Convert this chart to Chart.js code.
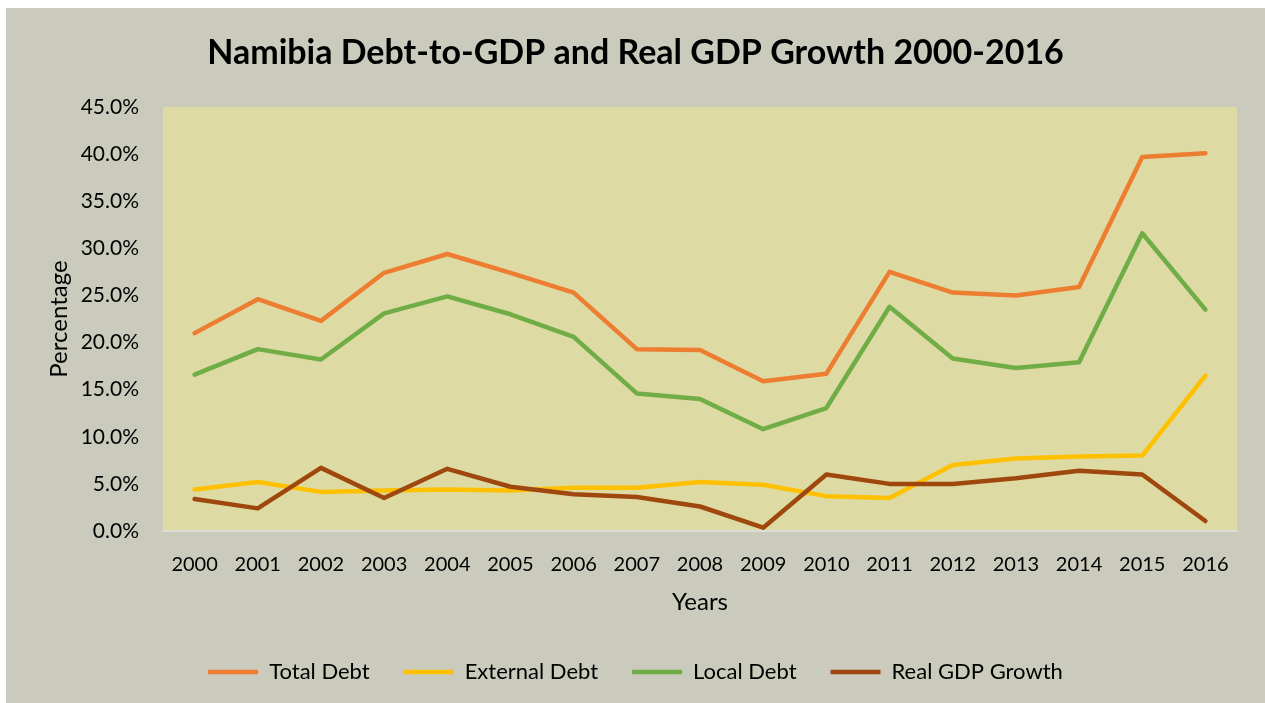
<!DOCTYPE html>
<html>
<head>
<meta charset="utf-8">
<style>
  html, body { margin: 0; padding: 0; background: #ffffff; }
  #wrap { width: 1265px; height: 703px; }
</style>
<script src="https://cdn.jsdelivr.net/npm/chart.js@4/dist/chart.umd.min.js"></script>
</head>
<body>
<div id="wrap"><canvas id="chart" width="1265" height="703"></canvas></div>
<script>
// Years on the category axis
const years = ['2000','2001','2002','2003','2004','2005','2006','2007','2008',
               '2009','2010','2011','2012','2013','2014','2015','2016'];

// Ratios to GDP and growth rate, in percent
const totalDebt    = [21.0, 24.6, 22.3, 27.4, 29.4, 27.4, 25.3, 19.3, 19.2, 15.9, 16.7, 27.5, 25.3, 25.0, 25.9, 39.7, 40.1];
const externalDebt = [4.4, 5.2, 4.15, 4.3, 4.4, 4.3, 4.6, 4.6, 5.2, 4.9, 3.7, 3.5, 7.0, 7.7, 7.9, 8.0, 16.5];
const localDebt    = [16.6, 19.3, 18.2, 23.1, 24.9, 23.0, 20.6, 14.6, 14.0, 10.8, 13.05, 23.8, 18.3, 17.3, 17.9, 31.6, 23.5];
const gdpGrowth    = [3.4, 2.4, 6.7, 3.5, 6.6, 4.7, 3.9, 3.6, 2.6, 0.35, 6.0, 5.0, 5.0, 5.6, 6.4, 6.0, 1.06];

// Value axis ticks
const yTicks = [0, 5, 10, 15, 20, 25, 30, 35, 40, 45];

const FONT = 'Lato, "Open Sans", sans-serif';

// Paints the card background and the shaded plotting area
const backdrop = {
  id: 'backdrop',
  beforeDraw(chart) {
    const { ctx, chartArea: a, width, height } = chart;
    ctx.save();
    ctx.fillStyle = '#ffffff';
    ctx.fillRect(0, 0, width, height);
    ctx.fillStyle = '#cbcbbd';
    ctx.fillRect(6, 8, width - 6, height - 8);
    ctx.fillStyle = '#dddba3';
    ctx.fillRect(a.left, a.top, a.right - a.left, a.bottom - a.top);
    ctx.restore();
  }
};

function series(label, data, color, order) {
  return {
    label, data, order,
    borderColor: color,
    backgroundColor: color,
    borderWidth: 4.5,
    borderCapStyle: 'round',
    borderJoinStyle: 'round',
    pointRadius: 0,
    pointHoverRadius: 0,
    tension: 0,
    fill: false
  };
}

new Chart(document.getElementById('chart'), {
  type: 'line',
  data: {
    labels: years,
    datasets: [
      series('Total Debt', totalDebt, '#ed7d31', 0),
      series('External Debt', externalDebt, '#ffc000', 1),
      series('Local Debt', localDebt, '#70ad47', 0),
      series('Real GDP Growth', gdpGrowth, '#9e480e', 0)
    ]
  },
  plugins: [backdrop],
  options: {
    responsive: false,
    animation: false,
    events: [],
    layout: { padding: { left: 6, right: 0, top: 8, bottom: 10 } },
    plugins: {
      tooltip: { enabled: false },
      title: {
        display: true,
        text: 'Namibia Debt-to-GDP and Real GDP Growth 2000-2016',
        color: '#000000',
        font: { family: FONT, size: 34, weight: 'bold', lineHeight: 1.2 },
        padding: { top: 25, bottom: 33.2 }
      },
      legend: {
        position: 'bottom',
        labels: {
          color: '#000000',
          font: { family: FONT, size: 22 },
          usePointStyle: true,
          pointStyle: 'line',
          pointStyleWidth: 50,
          boxHeight: 22,
          padding: 34,
          sort: (a, b) => a.datasetIndex - b.datasetIndex
        }
      }
    },
    scales: {
      x: {
        offset: true,
        grid: { display: false, drawTicks: false },
        border: { display: true, color: '#dcdcd2', width: 2 },
        ticks: { color: '#000000', font: { family: FONT, size: 20 }, padding: 22, maxRotation: 0, autoSkip: false },
        title: {
          display: true, text: 'Years', color: '#000000',
          font: { family: FONT, size: 24, lineHeight: 1.2 },
          padding: { top: 0, bottom: 10.6 }
        },
        afterFit(scale) { scale.height = 96; }
      },
      y: {
        min: 0, max: 45,
        grid: { display: false, drawTicks: false },
        border: { display: false },
        afterBuildTicks(scale) { scale.ticks = yTicks.map(v => ({ value: v })); },
        ticks: {
          color: '#000000',
          font: { family: FONT, size: 21 },
          padding: 24,
          callback: v => v.toFixed(1) + '%'
        },
        title: {
          display: true, text: 'Percentage', color: '#000000',
          font: { family: FONT, size: 24, lineHeight: 1.2 },
          padding: { top: 38.6, bottom: 0 }
        },
        afterFit(scale) { scale.width = 157; }
      },
      yRight: {
        position: 'right',
        display: true,
        grid: { display: false, drawTicks: false },
        border: { display: false },
        ticks: { display: false },
        afterFit(scale) { scale.width = 28; }
      }
    }
  }
});
</script>
</body>
</html>
